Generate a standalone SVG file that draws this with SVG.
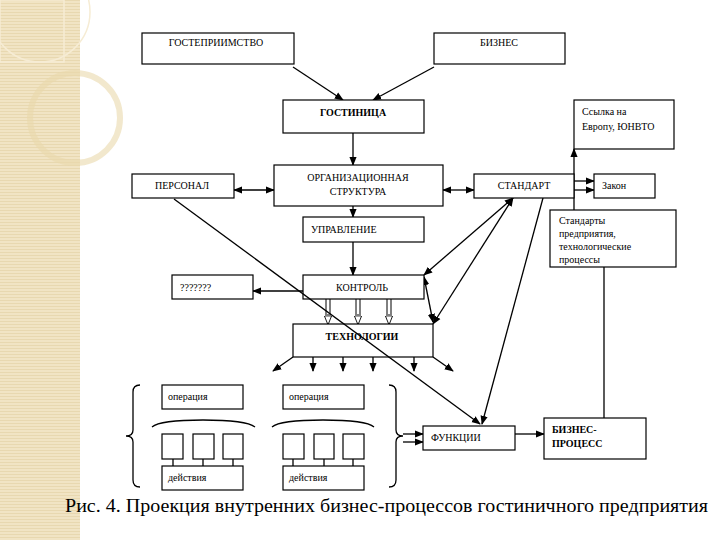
<svg xmlns="http://www.w3.org/2000/svg" width="720" height="540" viewBox="0 0 720 540">
<defs>
<pattern id="stripes" width="4" height="3" patternUnits="userSpaceOnUse"><rect width="4" height="3" fill="#f1e4c4"/><rect width="4" height="1" fill="#e8d8b0"/></pattern>
<marker id="a" viewBox="0 0 10 10" refX="9" refY="5" markerWidth="7" markerHeight="7" orient="auto-start-reverse"><path d="M0,1 L10,5 L0,9 z" fill="#000"/></marker>
<marker id="h" viewBox="0 0 10 10" refX="9" refY="5" markerWidth="9" markerHeight="9" orient="auto"><path d="M0,1 L10,5 L0,9 z" fill="#fff" stroke="#000" stroke-width="1"/></marker>
</defs>
<style>
.b{fill:#fff;stroke:#000;stroke-width:1.2}
.t{font-family:"Liberation Serif","Times New Roman",serif;font-size:10px;fill:#000}
.c{text-anchor:middle}
.bo{font-weight:bold}
.l{stroke:#000;stroke-width:1.3;fill:none}
</style>
<rect width="720" height="540" fill="#fff"/>
<g id="background">
<rect x="0" y="0" width="80" height="540" fill="url(#stripes)"/>
<rect x="0" y="0" width="64" height="62" fill="none" stroke="#f6ecd4" stroke-width="1.5"/>
<circle cx="40" cy="12" r="50" fill="none" stroke="#f6ecd4" stroke-width="1.5"/>
<circle cx="75" cy="118" r="45" fill="none" stroke="#ead8ab" stroke-width="6" opacity="0.6"/>
</g>
<g id="connectors">
<line class="l" x1="293" y1="67" x2="343" y2="100" marker-end="url(#a)"/>
<line class="l" x1="434" y1="67" x2="373" y2="100" marker-end="url(#a)"/>
<line class="l" x1="353" y1="133" x2="353" y2="165" marker-end="url(#a)"/>
<line class="l" x1="234" y1="190" x2="274" y2="190" marker-start="url(#a)" marker-end="url(#a)"/>
<line class="l" x1="443" y1="190" x2="474" y2="190" marker-start="url(#a)" marker-end="url(#a)"/>
<line class="l" x1="574" y1="210" x2="574" y2="149" marker-end="url(#a)"/>
<line class="l" x1="574" y1="181" x2="594" y2="181" marker-end="url(#a)"/>
<line class="l" x1="574" y1="190" x2="594" y2="190" marker-end="url(#a)"/>
<line class="l" x1="353" y1="206" x2="353" y2="217" marker-end="url(#a)"/>
<line class="l" x1="353" y1="242" x2="353" y2="275" marker-end="url(#a)"/>
<line class="l" x1="303" y1="291" x2="253" y2="291" marker-end="url(#a)"/>
<line class="l" x1="513" y1="198" x2="424" y2="275" marker-start="url(#a)" marker-end="url(#a)"/>
<line class="l" x1="513" y1="198" x2="433" y2="324" marker-start="url(#a)" marker-end="url(#a)"/>
<line class="l" x1="424" y1="277" x2="433" y2="322" marker-start="url(#a)" marker-end="url(#a)"/>
<line class="l" x1="543" y1="198" x2="482" y2="424" marker-end="url(#a)"/>
<g stroke="#000" stroke-width="1">
<line x1="326" y1="299" x2="326" y2="318"/><line x1="330" y1="299" x2="330" y2="318"/>
<line x1="356" y1="299" x2="356" y2="318"/><line x1="360" y1="299" x2="360" y2="318"/>
<line x1="387" y1="299" x2="387" y2="318"/><line x1="391" y1="299" x2="391" y2="318"/>
</g>
<line x1="328" y1="314" x2="328" y2="324" stroke="#000" stroke-width="1" marker-end="url(#h)"/>
<line x1="358" y1="314" x2="358" y2="324" stroke="#000" stroke-width="1" marker-end="url(#h)"/>
<line x1="389" y1="314" x2="389" y2="324" stroke="#000" stroke-width="1" marker-end="url(#h)"/>
<line class="l" x1="293" y1="357" x2="273" y2="371" marker-end="url(#a)"/>
<line class="l" x1="313" y1="357" x2="313" y2="371" marker-end="url(#a)"/>
<line class="l" x1="343" y1="357" x2="343" y2="371" marker-end="url(#a)"/>
<line class="l" x1="373" y1="357" x2="373" y2="371" marker-end="url(#a)"/>
<line class="l" x1="414" y1="357" x2="414" y2="371" marker-end="url(#a)"/>
<line class="l" x1="433" y1="357" x2="453" y2="371" marker-end="url(#a)"/>
<line class="l" x1="604" y1="267" x2="604" y2="418"/>
<path class="l" d="M152,427 Q160,420 203,420 Q246,420 255,427"/>
<path class="l" d="M272,427 Q280,420 323,420 Q366,420 374,427"/>
<line class="l" x1="173" y1="466" x2="173" y2="450" marker-end="url(#a)"/>
<line class="l" x1="203" y1="466" x2="203" y2="450" marker-end="url(#a)"/>
<line class="l" x1="233" y1="466" x2="233" y2="450" marker-end="url(#a)"/>
<line class="l" x1="293" y1="466" x2="293" y2="450" marker-end="url(#a)"/>
<line class="l" x1="324" y1="466" x2="324" y2="450" marker-end="url(#a)"/>
<line class="l" x1="353" y1="466" x2="353" y2="450" marker-end="url(#a)"/>
<path class="l" stroke-width="1" d="M140,385 Q133,385 133,392 L133,430 Q133,436 126,436 Q133,436 133,442 L133,480 Q133,487 140,487"/>
<path class="l" stroke-width="1" d="M389,385 Q396,385 396,392 L396,430 Q396,436 403,436 Q396,436 396,442 L396,480 Q396,487 389,487"/>
<line class="l" x1="403" y1="434" x2="423" y2="434" marker-end="url(#a)"/>
<line class="l" x1="403" y1="442" x2="423" y2="442" marker-end="url(#a)"/>
<line class="l" x1="515" y1="434" x2="544" y2="434" marker-end="url(#a)"/>
</g>
<g id="gost"><rect class="b" x="142" y="33" width="152" height="31"/><text class="t c" x="216" y="46">ГОСТЕПРИИМСТВО</text></g>
<g id="biz"><rect class="b" x="434" y="33" width="131" height="31"/><text class="t c" x="499" y="46">БИЗНЕС</text></g>
<g id="hotel"><rect class="b" x="283" y="100" width="141" height="33"/><text class="t c bo" x="353" y="116">ГОСТИНИЦА</text></g>
<g id="link"><rect class="b" x="574" y="100" width="100" height="49"/><text class="t" x="582" y="115">Ссылка на</text><text class="t" x="582" y="130">Европу, ЮНВТО</text></g>
<g id="org"><rect class="b" x="274" y="165" width="169" height="41"/><text class="t c" x="358" y="181">ОРГАНИЗАЦИОННАЯ</text><text class="t c" x="358" y="195">СТРУКТУРА</text></g>
<g id="pers"><rect class="b" x="132" y="174" width="102" height="24"/><text class="t c" x="182" y="189">ПЕРСОНАЛ</text></g>
<g id="std"><rect class="b" x="474" y="174" width="100" height="24"/><text class="t c" x="524" y="189">СТАНДАРТ</text></g>
<g id="law"><rect class="b" x="594" y="174" width="61" height="24"/><text class="t" x="602" y="189" font-size="9">Закон</text></g>
<g id="upr"><rect class="b" x="303" y="217" width="121" height="25"/><text class="t" x="311" y="233">УПРАВЛЕНИЕ</text></g>
<g id="stdent"><rect class="b" x="550" y="210" width="126" height="57"/><text class="t" x="559" y="224" font-size="9">Стандарты</text><text class="t" x="559" y="237" font-size="9">предприятия,</text><text class="t" x="559" y="250" font-size="9">технологические</text><text class="t" x="559" y="263" font-size="9">процессы</text></g>
<g id="kontrol"><rect class="b" x="303" y="275" width="121" height="24"/><text class="t c" x="362" y="291">КОНТРОЛЬ</text></g>
<g id="q"><rect class="b" x="172" y="275" width="81" height="24"/><text class="t" x="180" y="291">???????</text></g>
<g id="tech"><rect class="b" x="293" y="324" width="140" height="33"/><text class="t c bo" x="362" y="340">ТЕХНОЛОГИИ</text></g>
<g id="op1"><rect class="b" x="162" y="385" width="81" height="24"/><text class="t" x="168" y="400">операция</text></g>
<g id="op2"><rect class="b" x="283" y="385" width="81" height="24"/><text class="t" x="289" y="400">операция</text></g>
<g id="sb">
<rect class="b" x="162" y="434" width="21" height="25"/><rect class="b" x="193" y="434" width="21" height="25"/><rect class="b" x="223" y="434" width="20" height="25"/>
<rect class="b" x="283" y="434" width="21" height="25"/><rect class="b" x="314" y="434" width="20" height="25"/><rect class="b" x="343" y="434" width="21" height="25"/>
</g>
<g id="act1"><rect class="b" x="162" y="466" width="81" height="24"/><text class="t" x="168" y="481">действия</text></g>
<g id="act2"><rect class="b" x="283" y="466" width="81" height="24"/><text class="t" x="289" y="481">действия</text></g>
<g id="func"><rect class="b" x="423" y="426" width="92" height="24"/><text class="t" x="431" y="441">ФУНКЦИИ</text></g>
<g id="bp"><rect class="b" x="544" y="418" width="102" height="41"/><text class="t bo" x="552" y="433">БИЗНЕС-</text><text class="t bo" x="552" y="447">ПРОЦЕСС</text></g>
<g id="connectors-over">
<line class="l" x1="174" y1="199" x2="480" y2="424" marker-end="url(#a)"/>
</g>
<text x="65" y="512" font-family="Liberation Serif, serif" font-size="18" textLength="643" lengthAdjust="spacingAndGlyphs">Рис. 4. Проекция внутренних бизнес-процессов гостиничного предприятия</text>
</svg>
